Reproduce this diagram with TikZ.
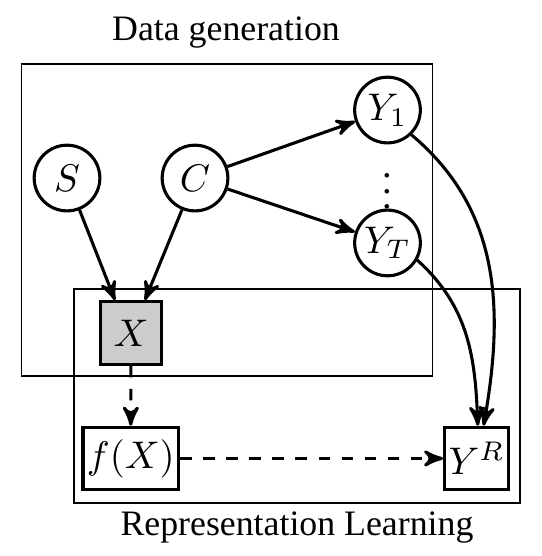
\documentclass[tikz,border=0pt]{standalone}
\usepackage{fontspec}
\setmainfont{Liberation Serif}
\usetikzlibrary{arrows}

\begin{document}
\begin{tikzpicture}[>=stealth', thick,
    latent/.style={circle, draw, thick, minimum size=0.6cm, inner sep=0pt},
    observed/.style={rectangle, draw, thick, minimum width=0.55cm,
      minimum height=0.57cm, inner sep=1pt},
    plate/.style={draw, thin},
    caption/.style={font=\fontsize{9.3}{11}\selectfont, anchor=base}]
  \useasboundingbox (0,0) rectangle (4.95,-5.078);
  % plates
  \draw[plate] (0.196,-0.584) rectangle (3.950,-3.434);
  \draw[plate] (0.676,-2.639) rectangle (4.749,-4.594);
  \node[caption] (gen) at (2.064,-0.374) {Data generation};
  \node[caption] (rep) at (2.712,-4.895) {Representation Learning};
  % S, C:
  %   latent causes
  \node[latent] (S) at (0.612,-1.626) {$S$};
  \node[latent] (C) at (1.781,-1.626) {$C$};
  % Y_1 ... Y_T:
  %   outcomes
  \node[latent] (Y1) at (3.539,-1.005) {$Y_1$};
  \node[latent] (YT) at (3.539,-2.219) {$Y_T$};
  \node[inner sep=0pt] (dots) at (3.539,-1.644) {$\vdots$};
  % X:
  %   the observed input
  \node[observed, fill=gray!40] (X) at (1.196,-3.041) {$X$};
  % f(X), Y^R:
  %   learned representation and its target
  \node[observed] (fX) at (1.194,-4.187) {$f(X)$};
  \node[observed] (YR) at (4.353,-4.187) {$Y^R$};
  \draw[->] (S) -- (X.116);
  \draw[->] (C) -- (X.67);
  \draw[->] (C) -- (Y1);
  \draw[->] (C) -- (YT);
  \draw[->] (Y1.-46) to[out=-40,in=80] (YR.78);
  \draw[->] (YT.-30) to[out=-42,in=92] (YR.88);
  \draw[->, dashed] (X) -- (fX);
  \draw[->, dashed] (fX) -- (YR);
\end{tikzpicture}
\end{document}
